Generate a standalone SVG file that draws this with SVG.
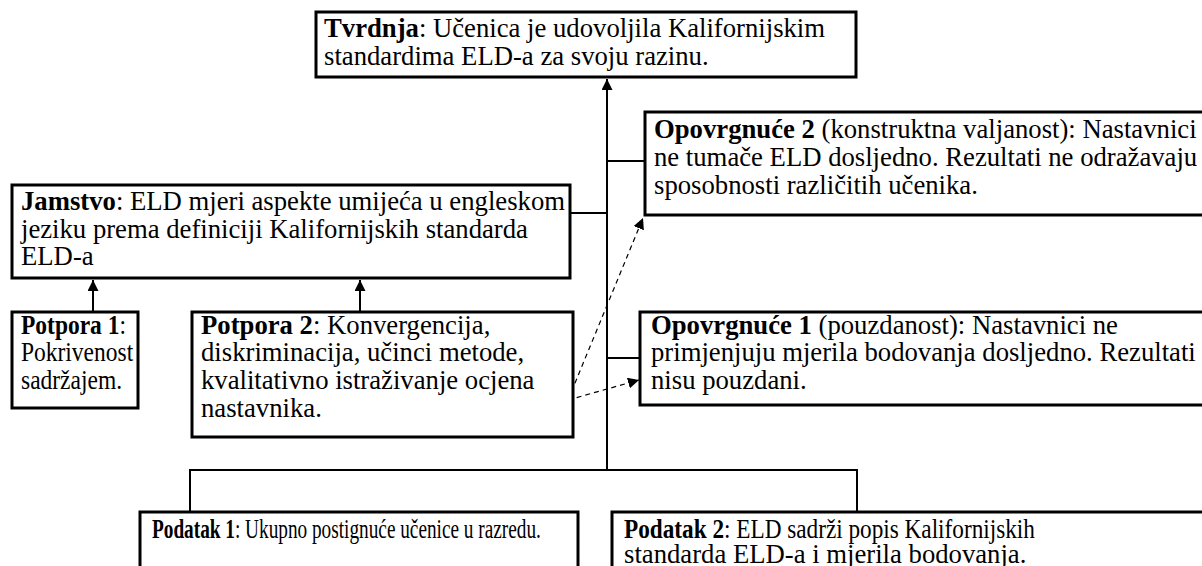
<svg xmlns="http://www.w3.org/2000/svg" width="1202" height="566" viewBox="0 0 1202 566">
<style>
.box{fill:#fff;stroke:#000;stroke-width:3}
text{font-family:"Liberation Serif","Times New Roman",serif;font-size:26.7px;fill:#000}
.b{font-weight:bold}
.ln{stroke:#000;stroke-width:2;fill:none}
.dash{stroke:#000;stroke-width:1.2;fill:none;stroke-dasharray:5 4}
</style>
<defs>
<marker id="ah" viewBox="0 0 10 10" refX="10" refY="5" markerWidth="11" markerHeight="11" markerUnits="userSpaceOnUse" orient="auto"><path d="M0,0L10,5L0,10z" fill="#000"/></marker>
</defs>
<g id="connectors">
<line class="ln" x1="607" y1="470" x2="607" y2="79" marker-end="url(#ah)"/>
<line class="ln" x1="607" y1="161" x2="645" y2="161"/>
<line class="ln" x1="570" y1="213" x2="607" y2="213"/>
<line class="ln" x1="607" y1="358" x2="640" y2="358"/>
<line class="ln" x1="93" y1="312" x2="93" y2="280" marker-end="url(#ah)"/>
<line class="ln" x1="360" y1="312" x2="360" y2="280" marker-end="url(#ah)"/>
<polyline class="ln" points="190,512 190,470 857,470 857,512"/>
<line class="dash" x1="568" y1="400" x2="643" y2="218" marker-end="url(#ah)"/>
<line class="dash" x1="568" y1="400" x2="639" y2="380" marker-end="url(#ah)"/>
</g>
<g id="tvrdnja">
<rect class="box" x="316" y="12" width="540" height="65"/>
<text x="324" y="37"><tspan class="b">Tvrdnja</tspan>: Učenica je udovoljila Kalifornijskim</text>
<text x="324" y="65">standardima ELD-a za svoju razinu.</text>
</g>
<g id="opovrgnuce2">
<rect class="box" x="645" y="112" width="570" height="103"/>
<text x="654" y="138"><tspan class="b">Opovrgnuće 2</tspan> (konstruktna valjanost): Nastavnici</text>
<text x="654" y="166">ne tumače ELD dosljedno. Rezultati ne odražavaju</text>
<text x="654" y="194">sposobnosti različitih učenika.</text>
</g>
<g id="jamstvo">
<rect class="box" x="12" y="185" width="558" height="93"/>
<text x="21" y="210"><tspan class="b">Jamstvo</tspan>: ELD mjeri aspekte umijeća u engleskom</text>
<text x="21" y="238">jeziku prema definiciji Kalifornijskih standarda</text>
<text x="21" y="265">ELD-a</text>
</g>
<g id="potpora1">
<rect class="box" x="12" y="312" width="126" height="96"/>
<text transform="translate(21,334) scale(0.88,1)"><tspan class="b">Potpora 1</tspan>:</text>
<text transform="translate(21,361) scale(0.88,1)">Pokrivenost</text>
<text transform="translate(21,389) scale(0.88,1)">sadržajem.</text>
</g>
<g id="potpora2">
<rect class="box" x="192" y="312" width="381" height="125"/>
<text x="201" y="334"><tspan class="b">Potpora 2</tspan>: Konvergencija,</text>
<text x="201" y="361">diskriminacija, učinci metode,</text>
<text x="201" y="389">kvalitativno istraživanje ocjena</text>
<text x="201" y="417">nastavnika.</text>
</g>
<g id="opovrgnuce1">
<rect class="box" x="640" y="312" width="575" height="93"/>
<text x="651" y="334"><tspan class="b">Opovrgnuće 1</tspan> (pouzdanost): Nastavnici ne</text>
<text x="651" y="361">primjenjuju mjerila bodovanja dosljedno. Rezultati</text>
<text x="651" y="389">nisu pouzdani.</text>
</g>
<g id="podatak1">
<rect class="box" x="140" y="512" width="438" height="70"/>
<text transform="translate(152,538) scale(0.722,1)"><tspan class="b">Podatak 1</tspan>: Ukupno postignuće učenice u razredu.</text>
</g>
<g id="podatak2">
<rect class="box" x="612" y="512" width="603" height="70"/>
<text transform="translate(624,538) scale(0.87,1)"><tspan class="b">Podatak 2</tspan>: ELD sadrži popis Kalifornijskih</text>
<text x="624" y="563">standarda ELD-a i mjerila bodovanja.</text>
</g>
</svg>
